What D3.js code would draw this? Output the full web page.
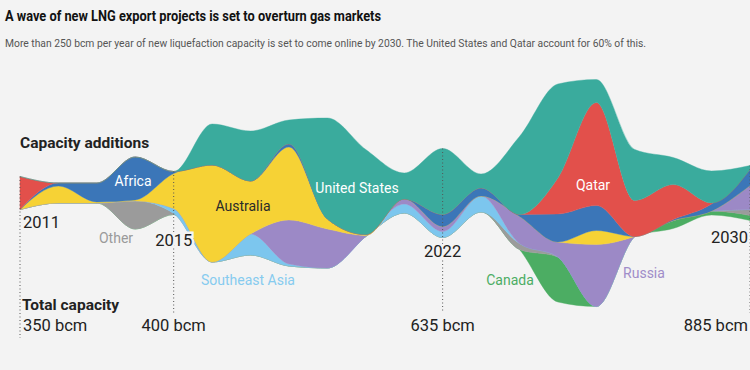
<!DOCTYPE html>
<html>
<head>
<meta charset="utf-8">
<script src="https://d3js.org/d3.v7.min.js"></script>
<style>
    body {
        margin: 0;
        background: #f3f3f3;
    }
    svg {
        display: block;
        font-family: Roboto, "Noto Sans", sans-serif;
    }
</style>
</head>
<body>

<svg width="750" height="370"></svg>

<script>

    // years along the stream
    var years = [2011, 2012, 2013, 2014, 2015, 2016, 2017, 2018, 2019, 2020,
                 2021, 2022, 2023, 2024, 2025, 2026, 2027, 2028, 2029, 2030];

    // capacity additions by exporter, bcm per year
    var unitedStates  = [0, 0, 0, 0, 0, 10.25, 12.5, 6, 25.25, 21.25, 6.5, 16.5, 3.5, 19.5, 23.5, 5.75, 12.75, 6.75, 8, 1];
    var qatar         = [8.25, 0, 0, 0, 0, 0, 0, 0, 0, 0, 0, 0, 0, 0, 9, 25.75, 9, 8.75, 0.25, 0];
    var africa        = [0, 0.75, 4.75, 10.75, 0.5, 0, 0, 0.75, 0, 0, 0, 3, 2, 0.5, 7, 6.25, 0, 0.25, 1.75, 4];
    var australia     = [0, 4.25, 0.25, 0.25, 8.75, 24.25, 13.25, 18.25, 2.5, 0.25, 0, 0, 0, 0, 0, 3.5, 0, 0, 0, 0];
    var russia        = [0, 0, 0, 0, 0, 0, 0, 11, 9.75, 0.25, 1.25, 1.25, 0, 6.75, 3.75, 15.5, 0, 0, 0, 6];
    var southeastAsia = [0, 0, 0, 0, 1.25, 0, 5.25, 0.5, 0, 0, 2.25, 1.5, 4, 0, 0, 0, 0, 0, 0, 0];
    var other         = [0, 0, 0, 7, 0.25, 0, 0, 0, 0, 0, 0, 0, 0, 1.5, 0, 0, 0, 0, 0, 1.5];
    var canada        = [0, 0, 0, 0, 0, 0, 0, 0, 0, 0, 0, 0, 0, 0, 11.25, 0, 0, 2, 1, 1.25];

    // stack order, bottom to top
    var names  = ["Canada", "Other", "Southeast Asia", "Russia", "Australia", "Africa", "Qatar", "United States"];
    var series = [canada, other, southeastAsia, russia, australia, africa, qatar, unitedStates];

    // marked years and total capacity
    var tickYears = [2011, 2015, 2022, 2030];
    var totalCapacity = ["350 bcm", "400 bcm", "635 bcm", "885 bcm"];

    var title = "A wave of new LNG export projects is set to overturn gas markets";
    var subtitle = "More than 250 bcm per year of new liquefaction capacity is set to come online by 2030. The United States and Qatar account for 60% of this.";

    //
    // build table and stack
    //

    var table = years.map(function(yr, i) {
        var row = {year: yr};
        names.forEach((n, j) => row[n] = series[j][i]);
        return row;
    });

    var layers = d3.stack()
        .keys(names)
        .order(d3.stackOrderNone)
        .offset(d3.stackOffsetSilhouette)(table);

    var svg = d3.select("svg");

    var x = d3.scaleLinear()
        .domain([2011, 2030])
        .range([20, 750]);

    var y = d3.scaleLinear()
        .domain([-30, 30])
        .range([313, 73]);

    var color = d3.scaleOrdinal()
        .domain(names)
        .range(["#4cad63", "#9b9b9b", "#7cc6ee", "#9c89c6", "#f6d235", "#3b76b8", "#e2504b", "#3aab9d"]);

    //
    // stream
    //

    var area = d3.area()
        .curve(d3.curveMonotoneX)
        .x(d => x(d.data.year))
        .y0(d => y(d[0]))
        .y1(d => y(d[1]));

    svg.append("g")
        .selectAll("path")
        .data(layers)
        .join("path")
        .attr("fill", d => color(d.key))
        .attr("stroke", d => color(d.key))
        .attr("stroke-width", 0.4)
        .attr("d", area);

    //
    // dotted year markers
    //

    var topLayer = layers[layers.length - 1];
    var tickLayout = [
        {anchor: "start",  dx: 3,  yearY: 228, lineEnd: 338},
        {anchor: "middle", dx: 0,  yearY: 246, lineEnd: 313},
        {anchor: "middle", dx: 0,  yearY: 257, lineEnd: 313},
        {anchor: "end",    dx: -2, yearY: 243, lineEnd: 313}
    ];

    var ticks = svg.append("g")
        .selectAll("g")
        .data(tickYears)
        .join("g");

    ticks.append("line")
        .attr("x1", d => x(d))
        .attr("x2", d => x(d))
        .attr("y1", d => y(topLayer[years.indexOf(d)][1]))
        .attr("y2", (d, i) => tickLayout[i].lineEnd)
        .attr("stroke", "#555")
        .attr("stroke-width", 1)
        .attr("stroke-dasharray", "1,2.5");

    ticks.append("text")
        .attr("x", (d, i) => x(d) + tickLayout[i].dx)
        .attr("y", (d, i) => tickLayout[i].yearY)
        .attr("text-anchor", (d, i) => tickLayout[i].anchor)
        .attr("font-size", 16.5)
        .attr("fill", "#222")
        .attr("stroke", "#f3f3f3")
        .attr("stroke-width", 5)
        .attr("paint-order", "stroke")
        .text(d => d);

    ticks.append("text")
        .attr("x", (d, i) => x(d) + tickLayout[i].dx)
        .attr("y", 331)
        .attr("text-anchor", (d, i) => tickLayout[i].anchor)
        .attr("font-size", 16.5)
        .attr("fill", "#222")
        .text((d, i) => totalCapacity[i]);

    //
    // series labels
    //

    var labelLayout = [
        {name: "Africa",         x: 133, y: 186, fill: "#ffffff"},
        {name: "Other",          x: 116, y: 243, fill: "#9a9a9a"},
        {name: "Australia",      x: 243, y: 211, fill: "#2a2a2a"},
        {name: "Southeast Asia", x: 248, y: 285, fill: "#86cbef"},
        {name: "United States",  x: 357, y: 193, fill: "#ffffff"},
        {name: "Qatar",          x: 593, y: 190, fill: "#ffffff"},
        {name: "Canada",         x: 510, y: 285, fill: "#4cad63"},
        {name: "Russia",         x: 644, y: 278, fill: "#a08dc9"}
    ];

    svg.append("g")
        .selectAll("text")
        .data(labelLayout)
        .join("text")
        .attr("x", d => d.x)
        .attr("y", d => d.y)
        .attr("text-anchor", "middle")
        .attr("font-size", 14)
        .attr("fill", d => d.fill)
        .text(d => d.name);

    //
    // headings
    //

    svg.append("text")
        .attr("x", 20)
        .attr("y", 148)
        .attr("font-size", 15.5)
        .attr("font-weight", 700)
        .attr("fill", "#222")
        .text("Capacity additions");

    svg.append("text")
        .attr("x", 22)
        .attr("y", 310)
        .attr("font-size", 15.5)
        .attr("font-weight", 700)
        .attr("fill", "#222")
        .text("Total capacity");

    svg.append("text")
        .attr("x", 5)
        .attr("y", 21)
        .attr("font-size", 14)
        .attr("font-weight", 700)
        .attr("fill", "#111")
        .attr("textLength", 376)
        .attr("lengthAdjust", "spacingAndGlyphs")
        .text(title);

    svg.append("text")
        .attr("x", 5)
        .attr("y", 47)
        .attr("font-size", 11)
        .attr("fill", "#555")
        .attr("textLength", 641)
        .attr("lengthAdjust", "spacingAndGlyphs")
        .text(subtitle);

</script>
</body>
</html>
